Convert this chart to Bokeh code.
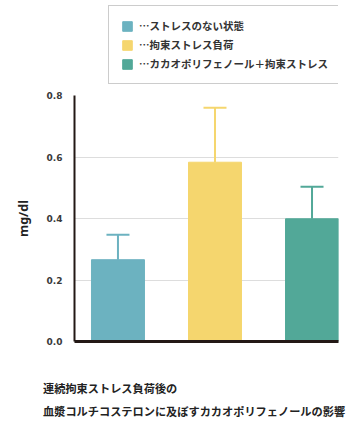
from bokeh.plotting import figure
from bokeh.layouts import column
from bokeh.models import (Range1d, FixedTicker, PrintfTickFormatter, Legend, LegendItem,
                          Whisker, TeeHead, ColumnDataSource, Div)
from bokeh.embed import file_html
from bokeh.resources import INLINE

# data
labels = ["…ストレスのない状態", "…拘束ストレス負荷", "…カカオポリフェノール＋拘束ストレス"]
positions = [1, 2, 3]
values = [0.266, 0.583, 0.399]
errors = [0.081, 0.177, 0.104]
colors = ["#6cb2c0", "#f5d66e", "#52a898"]
y_ticks = [0.0, 0.2, 0.4, 0.6, 0.8]
y_label = "mg/dl"
title_lines = ["連続拘束ストレス負荷後の", "血漿コルチコステロンに及ぼすカカオポリフェノールの影響"]

JP = "Noto Sans CJK JP"
W = 344

source = ColumnDataSource(dict(x=positions, top=values, color=colors))

# ---- legend figure ----
pl = figure(width=W, height=90, output_backend="svg", toolbar_location=None,
            x_axis_location=None, y_axis_location=None,
            x_range=Range1d(0, 1), y_range=Range1d(0, 1),
            min_border_left=74, min_border_right=6, min_border_top=0, min_border_bottom=0)
pl.outline_line_color = None
pl.grid.visible = False
rl = pl.vbar(x="x", top="top", width=0.5, color="color", source=source, visible=False)
legend = Legend(items=[LegendItem(label=labels[i], renderers=[rl], index=i) for i in range(3)],
                location=(34, 6), orientation="vertical",
                glyph_width=12, glyph_height=12, label_height=12, spacing=4,
                padding=12, margin=0, label_standoff=6,
                label_text_font=JP, label_text_font_style="bold",
                label_text_font_size="10.5px", label_text_color="#333333",
                border_line_color="#999999", border_line_width=1,
                background_fill_color="white", background_fill_alpha=1)
pl.add_layout(legend)

# ---- main chart ----
p = figure(width=W, height=260, output_backend="svg", toolbar_location=None,
           x_range=Range1d(0.552, 3.273), y_range=Range1d(0, 0.8),
           min_border_left=74, min_border_right=6, min_border_top=5, min_border_bottom=9)
p.outline_line_color = None

r = p.vbar(x="x", top="top", width=0.546, color="color", source=source)

for i in range(len(values)):
    ws = ColumnDataSource(dict(x=[positions[i]], lo=[values[i]], hi=[values[i] + errors[i]]))
    w = Whisker(base="x", lower="lo", upper="hi", source=ws, dimension="height",
                line_color=colors[i], line_width=2,
                upper_head=TeeHead(size=23, line_color=colors[i], line_width=2),
                lower_head=None, level="underlay")
    p.add_layout(w)

p.xaxis.ticker = FixedTicker(ticks=[])
p.xaxis.axis_line_width = 3
p.xaxis.axis_line_color = "#231815"
p.xaxis.major_tick_line_color = None
p.xaxis.minor_tick_line_color = None
p.xgrid.visible = False

p.yaxis.ticker = FixedTicker(ticks=y_ticks)
p.yaxis.formatter = PrintfTickFormatter(format="%.1f")
p.yaxis.axis_line_width = 2
p.yaxis.axis_line_color = "#231815"
p.yaxis.major_tick_line_color = None
p.yaxis.minor_tick_line_color = None
p.yaxis.major_tick_out = 0
p.yaxis.major_label_standoff = 12
p.yaxis.major_label_text_font = "DejaVu Sans"
p.yaxis.major_label_text_font_style = "bold"
p.yaxis.major_label_text_font_size = "9px"
p.yaxis.major_label_text_color = "#3a3a3a"
p.yaxis.axis_label = y_label
p.yaxis.axis_label_text_font = "Noto Sans"
p.yaxis.axis_label_text_font_style = "bold"
p.yaxis.axis_label_text_font_size = "12.5px"
p.yaxis.axis_label_text_color = "#222222"
p.yaxis.axis_label_standoff = 12
p.ygrid.grid_line_color = "#dddddd"
p.ygrid.grid_line_width = 1

# ---- caption ----
caption = Div(text="<br>".join(title_lines), width=W, height=74,
              styles={"font-family": "'Noto Sans CJK JP'", "font-weight": "bold",
                      "font-size": "11.2px", "color": "#222222", "line-height": "23px",
                      "padding-top": "22px", "padding-left": "38px",
                      "white-space": "nowrap", "box-sizing": "border-box"})

layout = column(pl, p, caption, spacing=0)
open("out.html", "w").write(file_html(layout, INLINE))
